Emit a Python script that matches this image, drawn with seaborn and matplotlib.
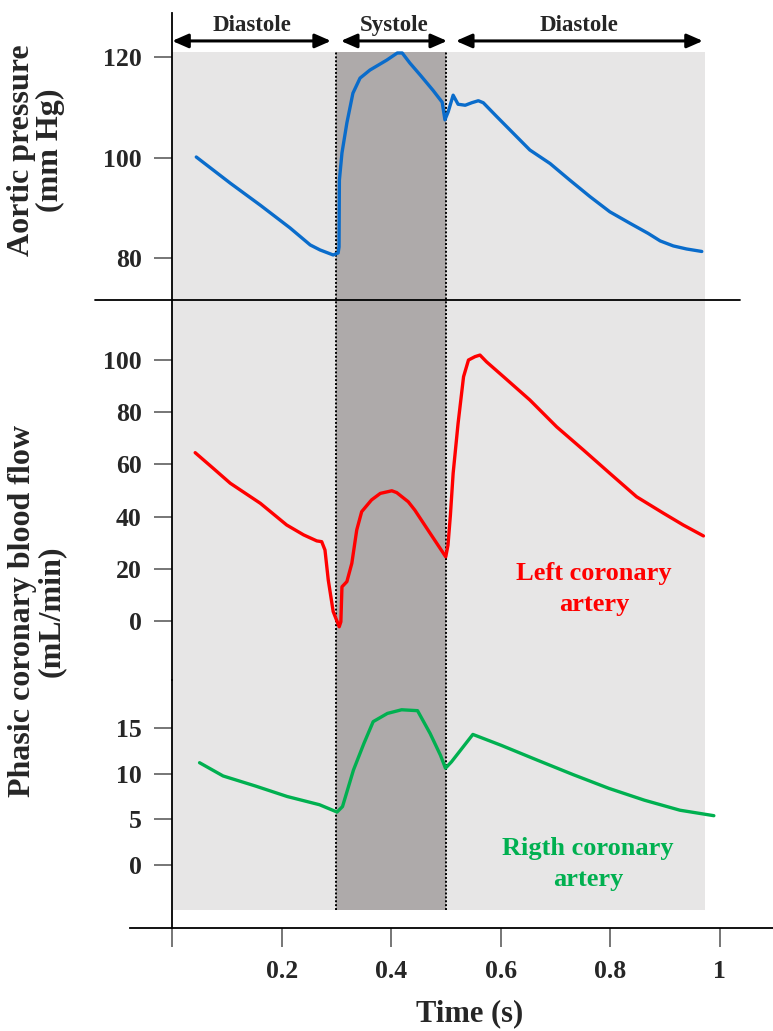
import matplotlib
matplotlib.use("Agg")
import matplotlib.pyplot as plt
import seaborn as sns
import pandas as pd
from matplotlib.lines import Line2D

# ---- data -------------------------------------------------------------
aortic_t = [0.044, 0.106, 0.161, 0.215, 0.252, 0.270, 0.294, 0.303, 0.3047,
            0.3053, 0.310, 0.319, 0.330, 0.343, 0.361, 0.392, 0.411, 0.420,
            0.434, 0.453, 0.476, 0.493, 0.498, 0.504, 0.513, 0.522, 0.535,
            0.547, 0.559, 0.568, 0.593, 0.623, 0.653, 0.690, 0.726, 0.763,
            0.799, 0.836, 0.869, 0.891, 0.915, 0.939, 0.967]
aortic_p = [100.1, 94.9, 90.5, 86.0, 82.6, 81.6, 80.6, 81.0, 82.2,
            95.5, 100.9, 106.9, 112.8, 115.8, 117.4, 119.4, 120.8, 120.8,
            118.8, 116.4, 113.4, 111.0, 107.5, 109.1, 112.4, 110.6, 110.4,
            110.9, 111.3, 110.9, 108.1, 104.8, 101.5, 98.8, 95.5, 92.2,
            89.2, 86.9, 84.9, 83.4, 82.4, 81.8, 81.3]

left_t = [0.042, 0.075, 0.106, 0.161, 0.209, 0.240, 0.264, 0.273, 0.279,
          0.285, 0.294, 0.305, 0.308, 0.310, 0.319, 0.328, 0.337, 0.346,
          0.364, 0.380, 0.401, 0.410, 0.431, 0.443, 0.471, 0.4995, 0.5036,
          0.508, 0.513, 0.522, 0.532, 0.541, 0.553, 0.562, 0.574, 0.605,
          0.653, 0.702, 0.751, 0.799, 0.848, 0.897, 0.933, 0.970]
left_flow = [64.5, 58.5, 52.8, 45.1, 36.8, 33.0, 30.7, 30.4, 27.2,
             15.7, 3.6, -2.2, -0.3, 13.1, 15.1, 22.1, 34.9, 41.9,
             46.4, 48.9, 49.9, 49.2, 45.7, 42.5, 33.6, 24.6, 29.1,
             40.6, 56.6, 75.7, 93.6, 100.0, 101.3, 101.9, 99.3, 93.6,
             84.7, 74.4, 65.5, 56.6, 47.6, 41.3, 36.8, 32.6]

right_t = [0.050, 0.093, 0.152, 0.210, 0.269, 0.301, 0.311, 0.331, 0.350,
           0.367, 0.393, 0.419, 0.448, 0.471, 0.490, 0.499, 0.510, 0.549,
           0.601, 0.666, 0.732, 0.797, 0.862, 0.927, 0.989]
right_flow = [11.2, 9.75, 8.65, 7.5, 6.6, 5.8, 6.4, 10.4, 13.3,
              15.7, 16.6, 17.0, 16.9, 14.4, 12.0, 10.6, 11.3, 14.3,
              13.1, 11.5, 9.9, 8.4, 7.1, 6.0, 5.4]

phase_names = ["Diastole", "Systole", "Diastole"]
phase_bounds = [(0.0, 0.29), (0.308, 0.502), (0.518, 0.969)]
systole = (0.3, 0.5)
cycle_end = 0.973

aortic_ticks = [80, 100, 120]
left_ticks = [0, 20, 40, 60, 80, 100]
right_ticks = [0, 5, 10, 15]
time_ticks = [0, 0.2, 0.4, 0.6, 0.8, 1.0]
time_labels = ["", "0.2", "0.4", "0.6", "0.8", "1"]

# ---- style ------------------------------------------------------------
sns.set_style("white")
plt.rcParams["font.family"] = ["Liberation Serif", "DejaVu Serif"]
plt.rcParams["font.weight"] = "bold"

W, H = 773, 1031
fig = plt.figure(figsize=(W / 100, H / 100), dpi=100)


def rect(top, bottom, left=130, right=773):
    return [left / W, 1 - bottom / H, (right - left) / W, (bottom - top) / H]


XLIM = (-0.077, 1.097)
TICK_COLOR = "#6b6b6b"

# background shading shared by all panels
bg = fig.add_axes(rect(13, 928))
bg.set_xlim(XLIM)
bg.set_ylim(928, 13)
bg.axis("off")
span_lo = (928 - 910) / (928 - 13)
span_hi = (928 - 52) / (928 - 13)
bg.axvspan(0, cycle_end, ymin=span_lo, ymax=span_hi, color="#E7E6E6", lw=0)
bg.axvspan(*systole, ymin=span_lo, ymax=span_hi, color="#AEAAAA", lw=0)
for xv in systole:
    bg.axvline(xv, ymin=span_lo, ymax=span_hi, color="black",
               ls=(0, (1, 1)), lw=1.4)


def panel(top, bottom, ylim, yticks):
    ax = fig.add_axes(rect(top, bottom))
    ax.patch.set_visible(False)
    for side in ("top", "right", "bottom"):
        ax.spines[side].set_visible(False)
    ax.spines["left"].set_position(("data", 0))
    ax.spines["left"].set_color("black")
    ax.spines["left"].set_linewidth(1.3)
    ax.set_xlim(XLIM)
    ax.set_ylim(*ylim)
    ax.set_yticks(yticks)
    ax.set_yticklabels([str(v) for v in yticks])
    ax.tick_params(axis="y", direction="out", length=13, width=1.3,
                   color=TICK_COLOR, pad=9, labelsize=18.5, left=True)
    ax.tick_params(axis="x", bottom=False, labelbottom=False)
    ax.grid(False)
    return ax


LIM_TOP = (71.64, 128.76)
LIM_MID = (-22.6, 123.0)
LIM_BOT = (-6.9, 20.26)

ax_top = panel(13, 300, LIM_TOP, aortic_ticks)
ax_mid = panel(300, 680, LIM_MID, left_ticks)
ax_bot = panel(680, 928, LIM_BOT, right_ticks)

sns.lineplot(x=aortic_t, y=aortic_p, ax=ax_top, color="#0A6CCB", lw=2.4,
             sort=False, estimator=None)
sns.lineplot(x=left_t, y=left_flow, ax=ax_mid, color="#FF0000", lw=2.4,
             sort=False, estimator=None)
sns.lineplot(x=right_t, y=right_flow, ax=ax_bot, color="#00B050", lw=2.4,
             sort=False, estimator=None)

for ax, lim in ((ax_top, LIM_TOP), (ax_mid, LIM_MID), (ax_bot, LIM_BOT)):
    ax.set_xlim(XLIM)
    ax.set_ylim(*lim)
    ax.set_xlabel("")
    ax.set_ylabel("")

# time axis
ax_bot.spines["bottom"].set_visible(True)
ax_bot.spines["bottom"].set_color("black")
ax_bot.spines["bottom"].set_linewidth(1.3)
ax_bot.set_xticks(time_ticks)
ax_bot.set_xticklabels(time_labels)
ax_bot.tick_params(axis="x", bottom=True, labelbottom=True, direction="out",
                   length=14, width=1.3, color=TICK_COLOR, pad=9,
                   labelsize=18.5)

# phase arrows and names
for name, (x0, x1) in zip(phase_names, phase_bounds):
    ax_top.annotate("", xy=(x1, 123.2), xytext=(x0, 123.2),
                    arrowprops=dict(arrowstyle="<|-|>,head_length=0.8,head_width=0.35",
                                    color="black", lw=2.2, mutation_scale=12,
                                    shrinkA=0, shrinkB=0),
                    annotation_clip=False)
    ax_top.text((x0 + x1) / 2, 125.2, name, ha="center", va="baseline",
                fontsize=16.5, fontweight="bold")

# divider between pressure and flow panels
fig.add_artist(Line2D([95 / W, 740 / W], [1 - 300 / H, 1 - 300 / H],
                      color="black", lw=1.3))


def fx(x):
    return x / W


def fy(y):
    return 1 - y / H


fig.text(fx(36), fy(150), "Aortic pressure\n(mm Hg)", rotation=90,
         ha="center", va="center", multialignment="center", fontsize=23,
         fontweight="bold", linespacing=1.0)
fig.text(fx(37), fy(611), "Phasic coronary blood flow\n(mL/min)", rotation=90,
         ha="center", va="center", multialignment="center", fontsize=23,
         fontweight="bold", linespacing=1.0)
fig.text(fx(470), fy(1014), "Time (s)", ha="center", va="center",
         fontsize=22, fontweight="bold")

fig.text(fx(594), fy(589), "Left coronary\nartery", ha="center", va="center",
         multialignment="center", color="#FF0000", fontsize=19,
         fontweight="bold", linespacing=1.4)
fig.text(fx(588), fy(864), "Rigth coronary\nartery", ha="center", va="center",
         multialignment="center", color="#00B050", fontsize=19,
         fontweight="bold", linespacing=1.4)

fig.savefig("out.png", dpi=100)
